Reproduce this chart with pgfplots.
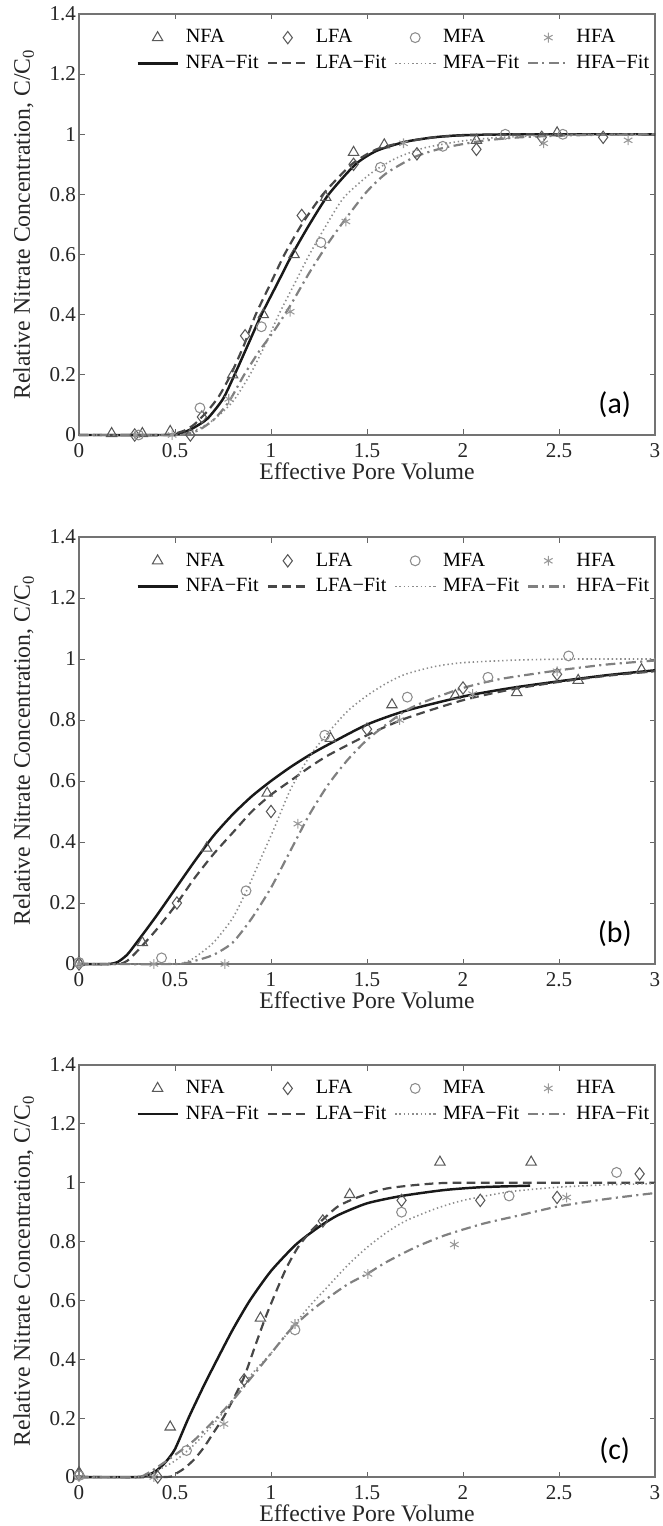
\documentclass[border=0pt]{standalone}
\usepackage{fontspec}
\setmainfont{Liberation Serif}
\newfontfamily\labfont{Carlito}
\usepackage{pgfplots}
\pgfplotsset{compat=1.18}

\pgfplotsset{
  panel/.style={
    scale only axis, width=11.52cm, clip=false,
    xmin=0, xmax=3, ymin=0, ymax=1.4,
    xtick={0,0.5,1,1.5,2,2.5,3},
    xticklabels={0,0.5,1,1.5,2,2.5,3},
    ytick={0,0.2,0.4,0.6,0.8,1,1.2,1.4},
    yticklabels={0,0.2,0.4,0.6,0.8,1,1.2,1.4},
    tick align=inside, major tick length=0.11cm,
    tick style={black!60, line width=0.5pt},
    axis line style={black!55, line width=0.6pt},
    /pgf/number format/assume math mode=true,
    ticklabel style={font=\fontsize{12}{14}\selectfont, black!85},
    yticklabel style={inner xsep=1.5pt},
    xticklabel style={yshift=-0.04cm},
    label style={font=\fontsize{13.5}{16}\selectfont, black!85},
    xlabel={Effective Pore Volume},
    ylabel={Relative Nitrate Concentration, C/C\textsubscript{0}},
    xlabel style={at={(axis description cs:0.5,0)}, anchor=center, yshift=-0.72cm},
    ylabel style={at={(axis description cs:-0.096,0.5)}, anchor=center},
    legend columns=4,
    legend cell align=left,
    legend style={draw=none, fill=none, at={(0.099,0.972)}, anchor=north west,
      font=\fontsize{11.5}{14}\selectfont, inner sep=0pt, row sep=1.5pt,
      /tikz/every odd column/.append style={column sep=0.07cm},
      /tikz/every even column/.append style={column sep=0.09cm}},
    legend image code/.code={%
      \draw[mark repeat=2,mark phase=2,#1] plot coordinates {(0cm,0cm) (0.4cm,0cm) (0.8cm,0cm)};},
  },
  nfam/.style={only marks, mark=triangle, mark size=3.4pt, black!65, mark options={line width=0.6pt}},
  lfam/.style={only marks, mark=diamond, mark size=3.5pt, black!65, mark options={line width=0.6pt}},
  mfam/.style={only marks, mark=o, mark size=2.8pt, black!45, mark options={line width=0.6pt}},
  hfam/.style={only marks, mark=asterisk, mark size=2.8pt, black!40, mark options={line width=0.6pt}},
  nfaf/.style={no marks, black!90, line width=1.4pt, smooth, tension=0.4},
  lfaf/.style={no marks, black!72, line width=1.25pt, dash pattern=on 5pt off 3pt, smooth, tension=0.4},
  mfaf/.style={no marks, black!45, line width=0.9pt, dash pattern=on 0.8pt off 1.6pt, smooth, tension=0.4},
  hfaf/.style={no marks, black!50, line width=1.25pt, dash pattern=on 5.5pt off 2.5pt on 1.2pt off 2.5pt, smooth, tension=0.4},
}

\begin{document}
\begin{tikzpicture}
\path[use as bounding box] (-1.58,0.28) rectangle (11.68,-30.24);

% ---------------- (a)
\begin{axis}[panel, height=8.42cm, at={(0cm,0cm)}, anchor=north west]
  \addplot[nfam] coordinates {(0.17,0.005) (0.33,0.005) (0.475,0.012) (0.80,0.20) (0.96,0.40)
    (1.12,0.60) (1.285,0.79) (1.43,0.94) (1.59,0.965) (2.07,0.98) (2.49,1.005)};
  \addplot[lfam] coordinates {(0.29,0.0) (0.58,0.0) (0.64,0.06) (0.865,0.33) (1.16,0.73)
    (1.43,0.90) (1.76,0.935) (2.07,0.95) (2.41,0.99) (2.73,0.99)};
  \addplot[mfam] coordinates {(0.31,0.0) (0.63,0.09) (0.95,0.36) (1.26,0.64) (1.57,0.89)
    (1.895,0.96) (2.22,1.0) (2.52,1.0)};
  \addplot[hfam] coordinates {(0.295,0.0) (0.485,0.0) (0.78,0.12) (1.10,0.41) (1.39,0.71)
    (1.69,0.97) (2.42,0.97) (2.86,0.98)};
  \addplot[nfaf] coordinates {(0,0) (0.45,0) (0.5,0.002) (0.55,0.01) (0.6,0.025) (0.67,0.055)
    (0.75,0.12) (0.81,0.2) (0.88,0.3) (0.95,0.4) (1.03,0.5) (1.11,0.6) (1.2,0.7) (1.3,0.8)
    (1.44,0.9) (1.55,0.945) (1.7,0.975) (1.85,0.99) (2.0,0.997) (2.3,1.0) (3,1.0)};
  \addplot[lfaf] coordinates {(0,0) (0.45,0) (0.5,0.005) (0.55,0.015) (0.6,0.035) (0.67,0.08)
    (0.73,0.13) (0.79,0.2) (0.86,0.3) (0.92,0.4) (0.995,0.5) (1.07,0.6) (1.16,0.7) (1.27,0.8)
    (1.42,0.9) (1.55,0.95) (1.7,0.975) (1.85,0.99) (2.0,0.996) (2.3,1.0) (3,1.0)};
  \addplot[mfaf] coordinates {(0,0) (0.5,0) (0.55,0.005) (0.62,0.02) (0.7,0.05) (0.8,0.11)
    (0.89,0.2) (0.97,0.3) (1.04,0.4) (1.12,0.5) (1.2,0.6) (1.29,0.7) (1.38,0.79) (1.52,0.87)
    (1.65,0.92) (1.8,0.955) (2.0,0.978) (2.2,0.99) (2.5,0.997) (3,1.0)};
  \addplot[hfaf] coordinates {(0,0) (0.5,0) (0.55,0.003) (0.62,0.015) (0.7,0.05) (0.78,0.11)
    (0.86,0.2) (0.94,0.28) (1.02,0.35) (1.1,0.43) (1.2,0.54) (1.3,0.64) (1.39,0.72) (1.5,0.81)
    (1.6,0.87) (1.75,0.925) (1.9,0.955) (2.1,0.978) (2.3,0.99) (2.6,0.997) (3,1.0)};
  \legend{NFA, LFA, MFA, HFA, NFA−Fit, LFA−Fit, MFA−Fit, HFA−Fit}
  \node[font=\labfont\fontsize{17}{19}\selectfont] at (axis cs:2.79,0.1) {(a)};
\end{axis}

% ---------------- (b)
\begin{axis}[panel, height=8.54cm, at={(0cm,-10.46cm)}, anchor=north west]
  \addplot[nfam] coordinates {(0,0.005) (0.33,0.07) (0.665,0.38) (0.98,0.56) (1.31,0.74)
    (1.63,0.85) (1.96,0.88) (2.28,0.89) (2.60,0.93) (2.93,0.965)};
  \addplot[lfam] coordinates {(0,0.0) (0.51,0.20) (1.0,0.50) (1.50,0.77) (2.0,0.905) (2.49,0.95)};
  \addplot[mfam] coordinates {(0,0.005) (0.43,0.02) (0.87,0.24) (1.28,0.75) (1.71,0.875)
    (2.13,0.94) (2.55,1.01)};
  \addplot[hfam] coordinates {(0,0.0) (0.39,0.0) (0.76,0.0) (1.14,0.46) (1.67,0.80)
    (2.05,0.885) (2.49,0.96)};
  \addplot[nfaf] coordinates {(0,0) (0.15,0) (0.2,0.006) (0.25,0.03) (0.3,0.07) (0.4,0.155)
    (0.5,0.245) (0.6,0.335) (0.7,0.42) (0.8,0.49) (0.9,0.55) (1.0,0.60) (1.1,0.645) (1.2,0.685)
    (1.3,0.72) (1.5,0.785) (1.7,0.83) (2.0,0.877) (2.25,0.905) (2.5,0.927) (2.75,0.947) (3,0.963)};
  \addplot[lfaf] coordinates {(0,0) (0.2,0) (0.25,0.01) (0.3,0.04) (0.4,0.11) (0.5,0.19)
    (0.6,0.28) (0.7,0.36) (0.8,0.43) (0.9,0.50) (1.0,0.555) (1.1,0.60) (1.2,0.645) (1.3,0.685)
    (1.5,0.75) (1.7,0.805) (2.0,0.865) (2.25,0.9) (2.5,0.925) (2.75,0.945) (3,0.96)};
  \addplot[mfaf] coordinates {(0,0) (0.5,0) (0.55,0.005) (0.6,0.02) (0.7,0.07) (0.8,0.15)
    (0.88,0.25) (0.95,0.35) (1.02,0.45) (1.1,0.57) (1.2,0.68) (1.3,0.76) (1.4,0.83) (1.5,0.88)
    (1.6,0.92) (1.7,0.95) (1.85,0.975) (2.0,0.988) (2.3,0.997) (2.6,1.0) (3,1.0)};
  \addplot[hfaf] coordinates {(0,0) (0.5,0) (0.6,0.01) (0.7,0.03) (0.8,0.07) (0.9,0.15)
    (1.0,0.25) (1.1,0.37) (1.2,0.49) (1.3,0.59) (1.4,0.67) (1.5,0.735) (1.6,0.785) (1.7,0.83)
    (1.8,0.86) (2.0,0.905) (2.2,0.935) (2.5,0.963) (2.75,0.982) (3,0.995)};
  \legend{NFA, LFA, MFA, HFA, NFA−Fit, LFA−Fit, MFA−Fit, HFA−Fit}
  \node[font=\labfont\fontsize{17}{19}\selectfont] at (axis cs:2.79,0.1) {(b)};
\end{axis}

% ---------------- (c)
\begin{axis}[panel, height=8.24cm, at={(0cm,-21.02cm)}, anchor=north west]
  \addplot[nfam] coordinates {(0,0.015) (0.475,0.17) (0.945,0.54) (1.41,0.96) (1.88,1.07) (2.355,1.07)};
  \addplot[lfam] coordinates {(0,0.01) (0.41,0.0) (0.86,0.33) (1.27,0.87) (1.68,0.94)
    (2.09,0.94) (2.49,0.95) (2.92,1.03)};
  \addplot[mfam] coordinates {(0,0.005) (0.56,0.09) (1.125,0.50) (1.68,0.90) (2.24,0.955) (2.80,1.035)};
  \addplot[hfam] coordinates {(0,0.0) (0.39,0.0) (0.755,0.18) (1.125,0.52) (1.505,0.69)
    (1.955,0.79) (2.54,0.95)};
  \addplot[nfaf] coordinates {(0,0) (0.3,0) (0.35,0.005) (0.4,0.02) (0.45,0.05) (0.5,0.095)
    (0.57,0.2) (0.65,0.31) (0.72,0.4) (0.8,0.5) (0.89,0.6) (1.0,0.7) (1.13,0.79) (1.25,0.85)
    (1.35,0.89) (1.5,0.93) (1.68,0.955) (1.9,0.975) (2.1,0.985) (2.35,0.99)};
  \addplot[lfaf] coordinates {(0,0) (0.45,0) (0.5,0.01) (0.55,0.03) (0.6,0.06) (0.65,0.1)
    (0.7,0.15) (0.75,0.2) (0.8,0.26) (0.86,0.34) (0.92,0.45) (0.97,0.54) (1.02,0.62) (1.08,0.71)
    (1.14,0.78) (1.2,0.83) (1.27,0.875) (1.35,0.92) (1.45,0.95) (1.6,0.98) (1.8,0.995) (2.0,1.0) (3,1.0)};
  \addplot[mfaf] coordinates {(0,0) (0.3,0) (0.35,0.005) (0.4,0.02) (0.5,0.055) (0.6,0.11)
    (0.7,0.18) (0.8,0.26) (0.9,0.35) (1.0,0.42) (1.1,0.5) (1.2,0.58) (1.3,0.65) (1.4,0.72)
    (1.5,0.78) (1.6,0.83) (1.7,0.87) (1.85,0.91) (2.0,0.94) (2.25,0.97) (2.5,0.985) (2.75,0.993) (3,0.997)};
  \addplot[hfaf] coordinates {(0,0) (0.3,0) (0.35,0.01) (0.4,0.03) (0.5,0.075) (0.6,0.125)
    (0.7,0.19) (0.8,0.26) (0.9,0.34) (1.0,0.42) (1.1,0.5) (1.2,0.56) (1.3,0.61) (1.4,0.655)
    (1.5,0.69) (1.6,0.73) (1.75,0.78) (1.9,0.82) (2.1,0.86) (2.3,0.89) (2.5,0.92) (2.75,0.945) (3,0.965)};
  \legend{NFA, LFA, MFA, HFA, NFA−Fit, LFA−Fit, MFA−Fit, HFA−Fit}
  \node[font=\labfont\fontsize{17}{19}\selectfont] at (axis cs:2.79,0.09) {(c)};
\end{axis}
\end{tikzpicture}
\end{document}
